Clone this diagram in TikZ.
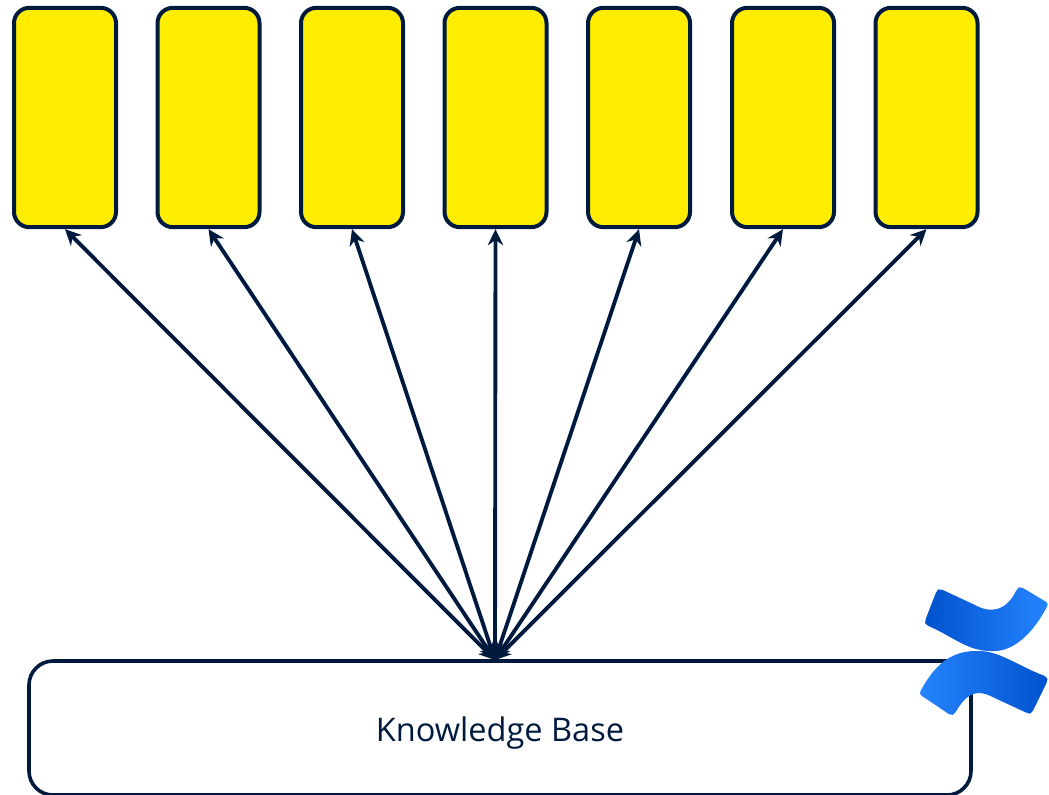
\documentclass[tikz,border=0pt]{standalone}
\usepackage{fontspec}
\setmainfont{Open Sans}
\usetikzlibrary{arrows.meta}
\definecolor{navy}{HTML}{001A3E}
\definecolor{boxyellow}{HTML}{FFED00}
\definecolor{logodark}{HTML}{0052CC}
\definecolor{logomid}{HTML}{2279F4}
\definecolor{logolight}{HTML}{2684FF}
\tikzset{
  px/.style={x=0.75pt,y=-0.75pt},
  agentbox/.style={draw=navy,fill=boxyellow,line width=3pt,rounded corners=11.5pt,
    minimum width=76.5pt,minimum height=164.5pt,inner sep=0pt},
  kbbox/.style={draw=navy,fill=white,line width=2.7pt,rounded corners=18pt,
    minimum width=706.5pt,minimum height=100.5pt,inner sep=0pt},
  kblabel/.style={text=navy,font=\fontsize{24.4pt}{29pt}\selectfont},
  link/.style={draw=navy,line width=2.9pt,{Stealth[length=12pt,width=11.5pt]}-{Stealth[length=12pt,width=11.5pt]}},
  logoleft/.style={rounded corners=2.2pt,left color=logodark,middle color=logomid,right color=logolight},
  logoright/.style={rounded corners=2.2pt,left color=logolight,middle color=logomid,right color=logodark}
}
\begin{document}
\begin{tikzpicture}[px]
\useasboundingbox (0,0) rectangle (1049,794);
\clip (0,0) rectangle (1049,794);
\node[agentbox] (a1) at (65,117.5) {};
\node[agentbox] (a2) at (208.5,117.5) {};
\node[agentbox] (a3) at (352,117.5) {};
\node[agentbox] (a4) at (495.5,117.5) {};
\node[agentbox] (a5) at (639,117.5) {};
\node[agentbox] (a6) at (783,117.5) {};
\node[agentbox] (a7) at (926.5,117.5) {};
\node[kbbox] (kb) at (500,728) {};
\node[kblabel] (kbl) at (500,733) {Knowledge Base};
\coordinate (hub) at (495,660);
\foreach \i in {1,...,7}{
  \draw[link] (hub) -- (a\i.south);
}
\begin{scope}[shift={(900,570)},x=0.25pt,y=-0.25pt]
  \shade[logoleft] (120,56) -- (225,105) .. controls (265,125) and (315,130) .. (352,55) -- (362,50) -- (446,100)
  .. controls (400,190) and (340,245) .. (270,243)
  .. controls (200,240) and (150,195) .. (78,165) -- (74,155) -- (110,62) -- cycle;
  \shade[logoright] (154,437) -- (57,372)
  .. controls (100,290) and (150,243) .. (235,243)
  .. controls (300,245) and (360,290) .. (440,320) -- (443,332) -- (395,430) -- (385,431)
  -- (280,382) .. controls (240,363) and (205,360) .. (165,430) -- cycle;
\end{scope}
\end{tikzpicture}
\end{document}
